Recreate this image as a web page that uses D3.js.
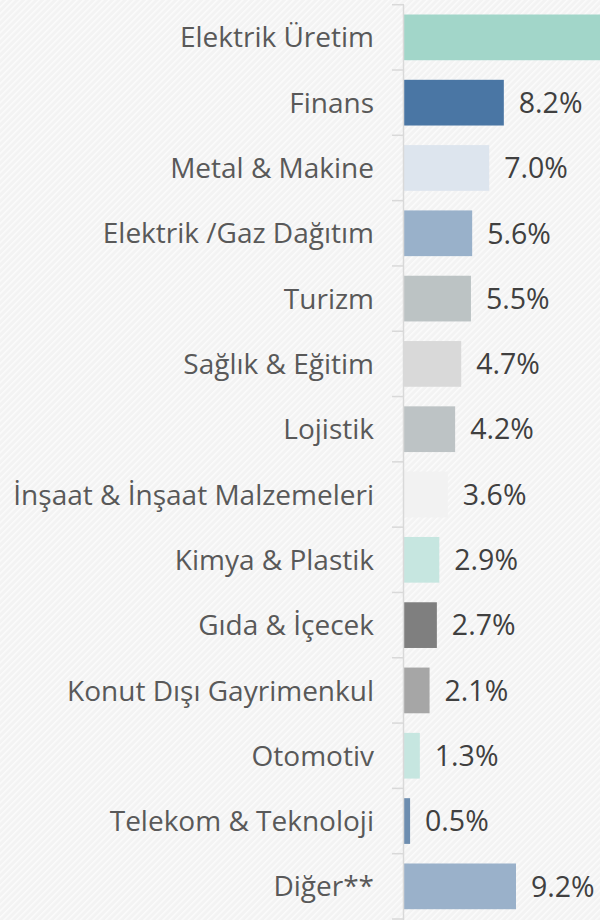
<!DOCTYPE html>
<html>
<head>
<meta charset="utf-8">
<script src="https://cdn.jsdelivr.net/npm/d3@7"></script>
<style>
  html, body { margin: 0; padding: 0; background: #f3f3f3; }
  svg { display: block; }
  .cat { font-family: "Open Sans", sans-serif; font-size: 28px; fill: #595959; }
  .val { font-family: "Open Sans", sans-serif; font-size: 28.5px; fill: #404040; }
</style>
</head>
<body>
<div id="chart"></div>
<script>
var categories = ["Elektrik Üretim", "Finans", "Metal & Makine", "Elektrik /Gaz Dağıtım", "Turizm",
  "Sağlık & Eğitim", "Lojistik", "İnşaat & İnşaat Malzemeleri", "Kimya & Plastik", "Gıda & İçecek",
  "Konut Dışı Gayrimenkul", "Otomotiv", "Telekom & Teknoloji", "Diğer**"];
var values = [42.5, 8.2, 7.0, 5.6, 5.5, 4.7, 4.2, 3.6, 2.9, 2.7, 2.1, 1.3, 0.5, 9.2];
var colors = ["#a2d6c9", "#4a76a4", "#dde5ee", "#99b1ca", "#bcc3c4", "#d9d9d9", "#bdc3c5",
  "#f2f2f2", "#c6e6e0", "#7f7f7f", "#a6a6a6", "#c6e6e0", "#6e8eb0", "#9ab1ca"];

var width = 600;
var height = 920;
var axisX = 404;

var svg = d3.select("#chart")
  .append("svg")
  .attr("width", width)
  .attr("height", height);

// faint diagonal stripes in the background
var pat = svg.append("defs").append("pattern")
  .attr("id", "stripes")
  .attr("width", 4.5)
  .attr("height", 4.5)
  .attr("patternUnits", "userSpaceOnUse")
  .attr("patternTransform", "rotate(45)");
pat.append("rect").attr("width", 4.5).attr("height", 4.5).attr("fill", "#f3f3f3");
pat.append("rect").attr("width", 1.5).attr("height", 4.5).attr("fill", "#fbfbfb");

svg.append("rect")
  .attr("width", width)
  .attr("height", height)
  .attr("fill", "url(#stripes)");

var x = d3.scaleLinear()
  .domain([0, 9.2])
  .range([axisX, 516]);

var y = d3.scaleBand()
  .domain(categories)
  .range([4.7, 919])
  .paddingInner(0.3)
  .paddingOuter(0.15);

var rows = categories.map((c, i) => ({ cat: c, value: values[i], color: colors[i] }));

svg.append("g").selectAll("rect")
  .data(rows)
  .enter().append("rect")
  .attr("x", x(0))
  .attr("y", d => y(d.cat))
  .attr("width", d => x(d.value) - x(0))
  .attr("height", y.bandwidth())
  .attr("fill", d => d.color);

// category axis: line plus ticks between categories
var step = y.step();
var r0 = y.range()[0];
var axis = svg.append("g");
axis.append("line")
  .attr("x1", axisX - 0.5).attr("x2", axisX - 0.5)
  .attr("y1", r0).attr("y2", height)
  .attr("stroke", "#d9d9d9")
  .attr("stroke-width", 1.5);
axis.selectAll(".tick")
  .data(d3.range(categories.length + 1))
  .enter().append("line")
  .attr("x1", axisX - 12).attr("x2", axisX)
  .attr("y1", i => r0 + i * step).attr("y2", i => r0 + i * step)
  .attr("stroke", "#d9d9d9")
  .attr("stroke-width", 1.5);

svg.append("g").selectAll("text")
  .data(rows)
  .enter().append("text")
  .attr("class", "cat")
  .attr("x", axisX - 30)
  .attr("y", d => y(d.cat) + y.bandwidth() / 2)
  .attr("dy", "0.36em")
  .attr("text-anchor", "end")
  .text(d => d.cat);

// the first bar runs off the chart, so its label is not shown
svg.append("g").selectAll("text")
  .data(rows.filter(d => x(d.value) + 15 < width))
  .enter().append("text")
  .attr("class", "val")
  .attr("x", d => x(d.value) + 15)
  .attr("y", d => y(d.cat) + y.bandwidth() / 2)
  .attr("dy", "0.36em")
  .text(d => d.value.toFixed(1) + "%");
</script>
</body>
</html>
